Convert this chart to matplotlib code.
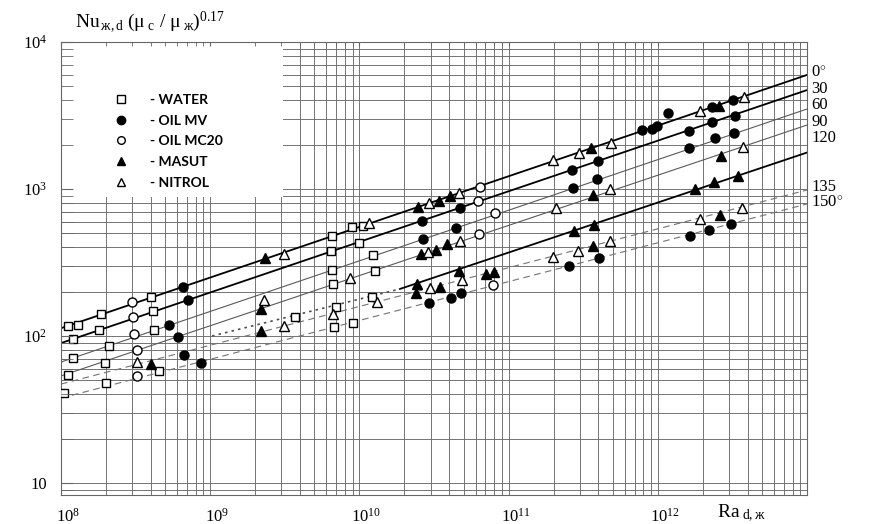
import matplotlib
matplotlib.use('Agg')
import matplotlib.pyplot as plt
import matplotlib.transforms as mtransforms
import numpy as np
from matplotlib.lines import Line2D
from matplotlib.patches import Rectangle
from matplotlib.ticker import LogLocator, NullFormatter

plt.rcParams['font.family'] = 'Liberation Serif'
plt.rcParams['mathtext.fontset'] = 'custom'
plt.rcParams['mathtext.rm'] = 'Liberation Serif'
plt.rcParams['mathtext.it'] = 'Liberation Serif:italic'
plt.rcParams['mathtext.bf'] = 'Liberation Serif:bold'

# --- measured points (Ra_d, Nu) ---
water_ra = [1.11e8, 1.30e8, 1.85e8, 4.0e8, 1.20e8, 1.80e8, 4.14e8, 2.1e8, 4.2e8, 1.20e8,
            1.97e8, 1.11e8, 4.54e8, 1.05e8, 2.0e8, 6.55e9, 8.9e9, 1.06e10, 6.46e9, 9.93e9,
            1.23e10, 6.55e9, 1.27e10, 6.65e9, 1.21e10, 6.97e9, 3.70e9, 9.06e9, 6.76e9]
water_nu = [117, 119, 141, 184, 95.5, 110, 148, 85.5, 110, 70.8,
            65.5, 54.3, 57.8, 40.9, 47.9, 479, 551, 560, 378, 430,
            356, 281, 277, 226, 184, 157, 135, 122, 115]

oil_mv_ra = [6.58e8, 7.1e8, 5.3e8, 6.08e8, 6.67e8, 8.67e8, 2.63e10, 4.72e10, 4.44e10, 2.67e10,
             4.80e10, 4.11e10, 2.92e10, 2.66e11, 3.97e11, 2.70e11, 3.91e11, 2.54e11, 4.04e11, 7.83e11,
             9.14e11, 9.89e11, 1.17e12, 2.31e12, 3.19e12, 1.62e12, 2.31e12, 3.29e12, 2.42e12, 3.24e12,
             1.62e12, 1.64e12, 2.20e12, 3.10e12]
oil_mv_nu = [215, 176, 119, 98.4, 74.3, 65.5, 605, 743, 543, 457,
             196, 182, 167, 1346, 1549, 1016, 1169, 299, 340, 2518,
             2559, 2685, 3289, 3614, 4027, 2477, 2858, 3141, 2223, 2404,
             1901, 479, 526, 578]

oil_mc20_ra = [2.99e8, 3.04e8, 3.08e8, 3.23e8, 3.23e8, 6.43e10, 6.24e10, 8.11e10, 6.34e10, 7.85e10]
oil_mc20_nu = [170, 135, 103, 80.4, 53.5, 1033, 828, 687, 494, 222]

masut_ra = [4.0e8, 2.33e9, 2.19e9, 2.19e9, 2.47e10, 3.41e10, 4.05e10, 2.59e10, 3.26e10, 3.86e10,
            4.66e10, 7.06e10, 7.98e10, 2.43e10, 2.39e10, 3.47e10, 3.56e11, 3.68e11, 2.74e11, 3.73e11,
            3.68e11, 2.57e12, 2.65e12, 1.77e12, 2.38e12, 3.45e12, 2.61e12]
masut_nu = [64.6, 340, 153, 108, 755, 828, 895, 361, 385, 423,
            277, 264, 272, 226, 196, 215, 1901, 910, 518, 569,
            409, 3673, 1675, 1000, 1117, 1225, 665]

nitrol_ra = [3.23e8, 3.13e9, 2.30e9, 3.13e9, 1.16e10, 8.65e9, 1.31e10, 6.65e9, 2.92e10, 4.66e10,
             2.88e10, 4.72e10, 2.97e10, 4.88e10, 1.99e11, 2.96e11, 4.85e11, 2.08e11, 4.79e11, 1.99e11,
             2.92e11, 4.79e11, 1.92e12, 3.78e12, 3.72e12, 1.92e12, 3.66e12]
nitrol_nu = [66.5, 361, 176, 117, 587, 248, 170, 141, 803, 940,
             372, 443, 212, 240, 1574, 1758, 2056, 743, 1000, 344,
             378, 443, 3396, 4227, 1932, 625, 743]

# --- correlation lines for each inclination angle ---
line_ra = [1e8, 1e13]
nu_0 = [113, 5970]
nu_30 = [89.5, 4710]
nu_60 = [66.5, 3499]
nu_90 = [53.5, 2723]
nu_135 = [47.1, 984]
nu_150 = [37.8, 791]
ra_120 = [1.87e10, 1e13]
nu_120 = [209, 1770]
ra_120_lam = [1.03e9, 1.87e10]
nu_120_lam = [100, 209]

angle_labels = ['0$^{\\circ}$', '30', '60', '90', '120', '135', '150$^{\\circ}$']
angle_label_y = [73, 89, 105, 122, 138, 187, 203]  # pixel rows of the labels

x_ticks = [1e8, 1e9, 1e10, 1e11, 1e12]
x_tick_labels = ['$10^8$', '$10^9$', '$10^{10}$', '$10^{11}$', '$10^{12}$']
y_ticks = [10, 100, 1000, 10000]
y_tick_labels = ['10', '$10^2$', '$10^3$', '$10^4$']

fig = plt.figure(figsize=(8.73, 5.24), dpi=100)
ax = fig.add_axes([61 / 873, 29 / 524, 746 / 873, 453 / 524])
ax.set_xscale('log')
ax.set_yscale('log')
ax.set_xlim(1e8, 1e13)
ax.set_ylim(10 ** (4 - 453 / 147), 1e4)

for a in (ax.xaxis, ax.yaxis):
    a.set_minor_locator(LogLocator(base=10, subs=np.arange(2, 10), numticks=100))
    a.set_minor_formatter(NullFormatter())
ax.set_xticks(x_ticks, labels=x_tick_labels)
ax.set_yticks(y_ticks, labels=y_tick_labels)
ax.set_axisbelow(True)
ax.grid(which='both', color='0.45', lw=0.7)
ax.tick_params(which='both', length=0)
ax.tick_params(axis='x', pad=9, labelsize=12)
ax.tick_params(axis='y', pad=10, labelsize=12)
shift = mtransforms.ScaledTranslation(7 / 100, 0, fig.dpi_scale_trans)
for t in ax.xaxis.get_major_ticks():
    t.label1.set_transform(t.label1.get_transform() + shift)
for s in ax.spines.values():
    s.set_color('0.4')
    s.set_linewidth(0.8)

# white box behind the key
ax.add_patch(Rectangle((0, 0.658), 0.2976, 0.342, transform=ax.transAxes,
                       facecolor='white', edgecolor='none', zorder=1))

thick = dict(color='black', lw=1.3, zorder=2)
thin = dict(color='0.35', lw=0.8, zorder=2)
dash = dict(color='0.45', lw=0.8, ls=(0, (6, 4)), zorder=2)
ax.plot(line_ra, nu_0, **thick)
ax.plot(line_ra, nu_30, **thick)
ax.plot(line_ra, nu_60, **thin)
ax.plot(line_ra, nu_90, **thin)
ax.plot(ra_120, nu_120, **thick)
ax.plot(ra_120_lam, nu_120_lam, color='0.3', lw=1.2, ls=(0, (1.5, 2.5)), zorder=2)
ax.plot(line_ra, nu_135, **dash)
ax.plot(line_ra, nu_150, **dash)

mk = dict(ls='none', mec='black', mew=1.0, zorder=3)
ax.plot(water_ra, water_nu, marker='s', ms=6, mfc='white', **mk)
ax.plot(oil_mv_ra, oil_mv_nu, marker='o', ms=6.5, mfc='black', **mk)
ax.plot(oil_mc20_ra, oil_mc20_nu, marker='o', ms=6.5, mfc='white', **mk)
ax.plot(masut_ra, masut_nu, marker='^', ms=7, mfc='black', **mk)
ax.plot(nitrol_ra, nitrol_nu, marker='^', ms=7, mfc='white', **mk)

handles = [
    Line2D([], [], ls='none', marker='s', ms=5.5, mfc='white', mec='black', mew=1.0),
    Line2D([], [], ls='none', marker='o', ms=6, mfc='black', mec='black'),
    Line2D([], [], ls='none', marker='o', ms=5.5, mfc='white', mec='black', mew=1.0),
    Line2D([], [], ls='none', marker='^', ms=6, mfc='black', mec='black'),
    Line2D([], [], ls='none', marker='^', ms=6, mfc='white', mec='black', mew=1.0),
]
names = ['- WATER', '- OIL MV', '- OIL MC20', '- MASUT', '- NITROL']
ax.legend(handles, names, loc='upper left', bbox_to_anchor=(0.071, 0.885),
          frameon=False, borderpad=0, borderaxespad=0, handlelength=1.0,
          handletextpad=1.6, labelspacing=0.62,
          prop=dict(family='Lato', weight='bold', size=10))

# overlay axes drawing the short inward tick stubs seen inside the key box
ax2 = fig.add_axes(ax.get_position(), sharex=ax, sharey=ax, frameon=False)
ax2.patch.set_visible(False)
ax2.tick_params(axis='y', which='both', direction='in', length=8.5, color='0.4',
                left=True, right=False, labelleft=False)
ax2.tick_params(axis='x', which='both', direction='in', length=3, color='0.4',
                top=True, bottom=False, labelbottom=False, labeltop=False)

for lab, yp in zip(angle_labels, angle_label_y):
    fig.text(811 / 873, 1 - yp / 524, lab, ha='left', va='center', fontsize=12)

fig.text(75 / 873, 1 - 22 / 524,
         r'$\mathrm{Nu}_{\,\mathrm{ж,d}}\ (\mathrm{μ}_{\ \mathrm{c}}\ /\ \mathrm{μ}_{\ \mathrm{ж}})^{0.17}$',
         ha='left', va='center', fontsize=14)
fig.text(717 / 873, 1 - 513 / 524, r'$\mathrm{Ra}_{\ \mathrm{d,ж}}$',
         ha='left', va='center', fontsize=14)

fig.savefig('out.png', dpi=100)
